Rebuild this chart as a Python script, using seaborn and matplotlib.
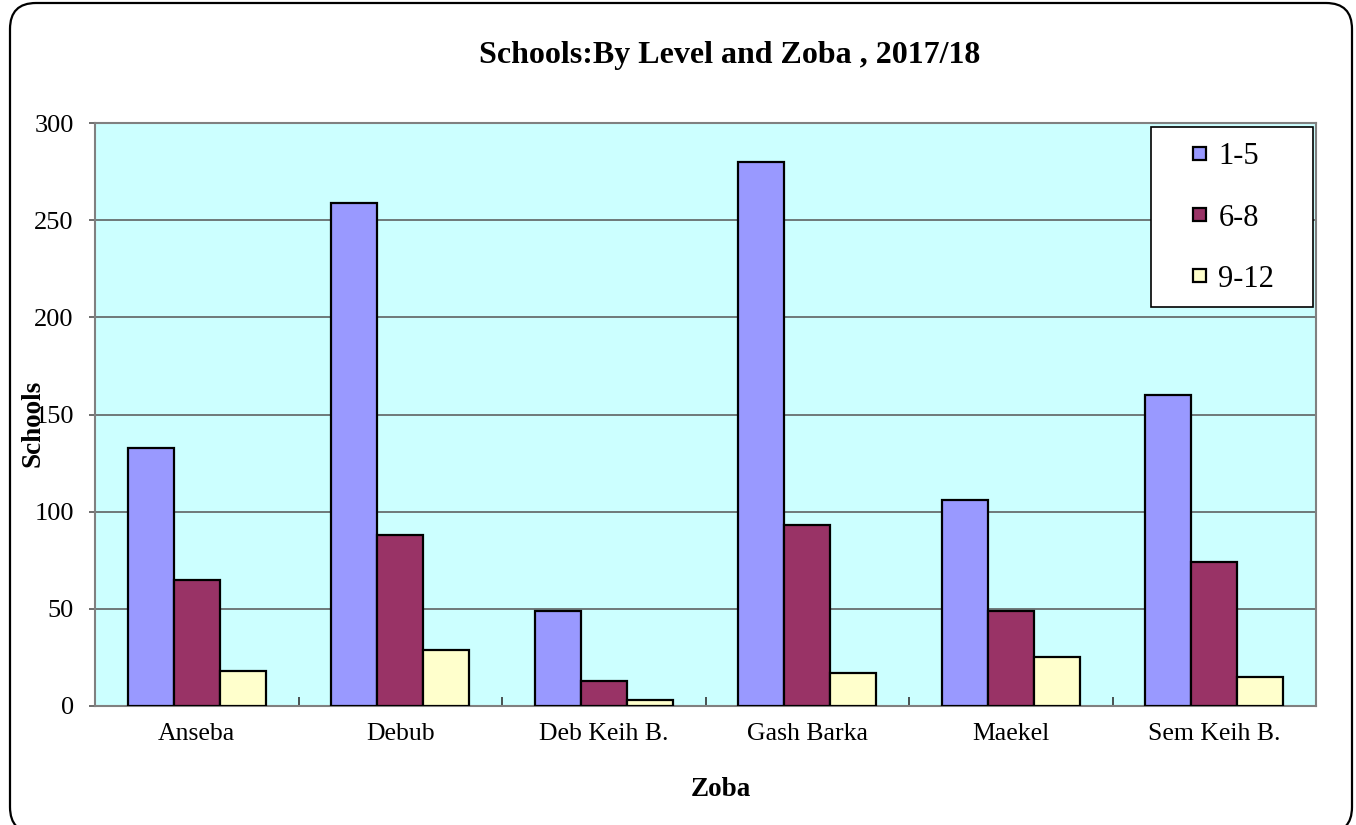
import matplotlib
matplotlib.use("Agg")
import matplotlib.pyplot as plt
from matplotlib.patches import FancyBboxPatch, Rectangle
from matplotlib.ticker import FixedLocator
import seaborn as sns
import pandas as pd

# data
zobas = ["Anseba", "Debub", "Deb Keih B.", "Gash Barka", "Maekel", "Sem Keih B."]
levels = ["1-5", "6-8", "9-12"]
schools_1_5 = [133, 259, 49, 280, 106, 160]
schools_6_8 = [65, 88, 13, 93, 49, 74]
schools_9_12 = [18, 29, 3, 17, 25, 15]
level_colors = ["#9999FF", "#993366", "#FFFFCC"]
y_ticks = [0, 50, 100, 150, 200, 250, 300]

df = pd.DataFrame({
    "Zoba": zobas * 3,
    "Level": [levels[0]] * 6 + [levels[1]] * 6 + [levels[2]] * 6,
    "Schools": schools_1_5 + schools_6_8 + schools_9_12,
})

sns.set_style("white")
plt.rcParams["font.family"] = ["Liberation Serif", "DejaVu Serif"]
plt.rcParams["text.color"] = "black"
plt.rcParams["axes.labelcolor"] = "black"
plt.rcParams["xtick.color"] = "black"
plt.rcParams["ytick.color"] = "black"

W, H = 1356, 825
fig = plt.figure(figsize=(W / 100, H / 100), dpi=100)
ax = fig.add_axes([95 / W, 1 - 706 / H, 1221 / W, 583 / H])
ax.set_facecolor("#CCFFFF")

sns.barplot(data=df, x="Zoba", y="Schools", hue="Level", order=zobas,
            hue_order=levels, palette=level_colors, saturation=1,
            width=0.68, edgecolor="black", linewidth=1.6, ax=ax, zorder=3)

handles, labels = ax.get_legend_handles_labels()
if ax.get_legend() is not None:
    ax.get_legend().remove()

ax.set_ylim(0, 300)
ax.set_xlim(-0.5, len(zobas) - 0.5)
ax.set_yticks(y_ticks)
ax.set_xlabel("")
ax.set_ylabel("")
ax.set_axisbelow(True)
ax.yaxis.grid(True, color="#555555", lw=1.1, zorder=1)
ax.xaxis.grid(False)
for sp in ax.spines.values():
    sp.set_color("#808080")
    sp.set_linewidth(1.5)
    sp.set_visible(True)

ax.tick_params(axis="y", labelsize=19, length=4.3, width=1.2, color="#555555",
               pad=11, left=True, direction="out", labelcolor="black")
ax.tick_params(axis="x", which="major", labelsize=18.5, length=0, pad=12,
               labelcolor="black")
ax.xaxis.set_minor_locator(FixedLocator([i - 0.5 for i in range(len(zobas) + 1)]))
ax.tick_params(axis="x", which="minor", direction="in", length=6.5, width=1.2,
               color="#333333", bottom=True)

# legend box drawn by hand so the entries can sit like in the original
box = Rectangle(((1151 - 95) / 1221, (706 - 307) / 583), 162 / 1221, 180 / 583,
                transform=ax.transAxes, facecolor="white", edgecolor="black",
                lw=1.2, zorder=6)
ax.add_patch(box)
leg = ax.legend(handles, labels, loc="center left",
                bbox_to_anchor=((1193 - 95) / 1221, (706 - 218) / 583),
                frameon=False, fontsize=22, borderpad=0, borderaxespad=0,
                handlelength=0.43, handleheight=0.28, handletextpad=0.4,
                labelspacing=1.05)
leg.set_zorder(7)

fig.text(730 / W, 1 - 56 / H, "Schools:By Level and Zoba , 2017/18",
         ha="center", va="center", fontsize=23, fontweight="bold")
fig.text(33 / W, 1 - 423 / H, "Schools", rotation=90, ha="center", va="center",
         fontsize=19.5, fontweight="bold")
fig.text(721 / W, 1 - 790 / H, "Zoba", ha="center", va="center",
         fontsize=19.5, fontweight="bold")

# rounded outer frame
frame = FancyBboxPatch((0.10, -0.08), 13.42, 8.30,
                       boxstyle="round,pad=0,rounding_size=0.26",
                       transform=fig.dpi_scale_trans, facecolor="none",
                       edgecolor="black", lw=1.6, clip_on=False)
fig.patches.append(frame)

fig.savefig("out.png", dpi=100)
